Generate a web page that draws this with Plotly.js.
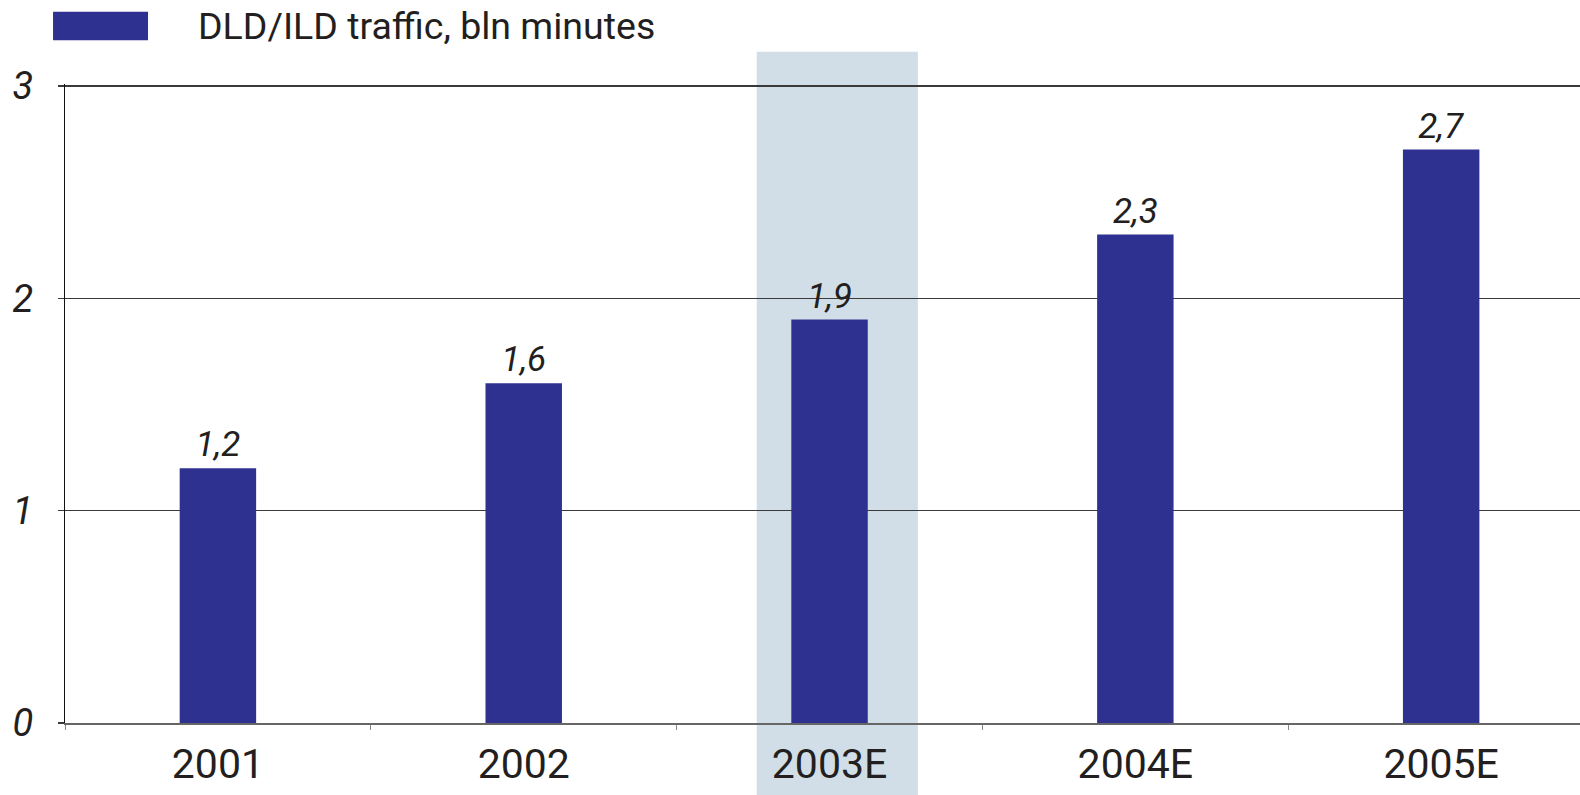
<!DOCTYPE html>
<html>
<head>
<meta charset="utf-8">
<script src="https://cdn.plot.ly/plotly-3.0.1.min.js"></script>
<style>html,body{margin:0;padding:0;background:#fff;}#chart{width:1580px;height:795px;}</style>
</head>
<body>
<div id="chart"></div>
<script>
const categories = ["2001", "2002", "2003E", "2004E", "2005E"];
const traffic = [1.2, 1.6, 1.9, 2.3, 2.7];
const seriesName = "DLD/ILD traffic, bln minutes";
const yTicks = [0, 1, 2, 3];

const barColor = "#2e3190";
const textColor = "#231f20";
const fontFamily = "Roboto, 'Open Sans', sans-serif";

const trace = {
  type: "bar",
  x: categories,
  y: traffic,
  name: seriesName,
  marker: {color: barColor},
  texttemplate: "%{y:.1f}",
  textposition: "outside",
  cliponaxis: false,
  textfont: {family: fontFamily, size: 35, style: "italic", color: textColor},
  hoverinfo: "x+y",
  showlegend: false
};

const layout = {
  width: 1580,
  height: 795,
  margin: {l: 65, r: 0, t: 84, b: 72, pad: 0},
  paper_bgcolor: "#ffffff",
  plot_bgcolor: "rgba(0,0,0,0)",
  separators: ", ",
  bargap: 0.75,
  font: {family: fontFamily, color: textColor},
  xaxis: {
    type: "category",
    range: [-0.5, 4.454],
    showline: true,
    linecolor: "#666666",
    linewidth: 2,
    showgrid: false,
    zeroline: false,
    ticks: "outside",
    tickson: "boundaries",
    ticklen: 5,
    tickwidth: 1,
    tickcolor: "#888888",
    tickfont: {family: fontFamily, size: 41, color: textColor},
    ticklabelstandoff: 4
  },
  yaxis: {
    range: [0, 3.009],
    tickvals: yTicks,
    ticktext: yTicks.map(String),
    showline: true,
    linecolor: "#111111",
    linewidth: 1.3,
    showgrid: true,
    gridcolor: "#3a3a3a",
    gridwidth: 1.3,
    zeroline: false,
    ticks: "outside",
    ticklen: 6,
    tickwidth: 1.3,
    tickcolor: "#3a3a3a",
    tickfont: {family: fontFamily, size: 38, style: "italic", color: textColor},
    ticklabelstandoff: 17
  },
  shapes: [
    {
      type: "rect", layer: "below",
      xref: "x", yref: "paper",
      x0: 1.762, x1: 2.289, y0: -0.2, y1: 1.0505,
      fillcolor: "#d2dee7", line: {width: 0}
    },
    {
      type: "rect", layer: "above",
      xref: "paper", yref: "paper",
      x0: -0.0079, x1: 0.0548, y0: 1.0685, y1: 1.113,
      fillcolor: barColor, line: {width: 0}
    }
  ],
  annotations: [
    {
      xref: "paper", yref: "paper",
      x: 0.0865, y: 1.0915,
      xanchor: "left", yanchor: "middle",
      text: seriesName,
      showarrow: false,
      font: {family: fontFamily, size: 37.5, color: textColor}
    }
  ]
};

Plotly.newPlot("chart", [trace], layout, {displayModeBar: false, staticPlot: true});
</script>
</body>
</html>
